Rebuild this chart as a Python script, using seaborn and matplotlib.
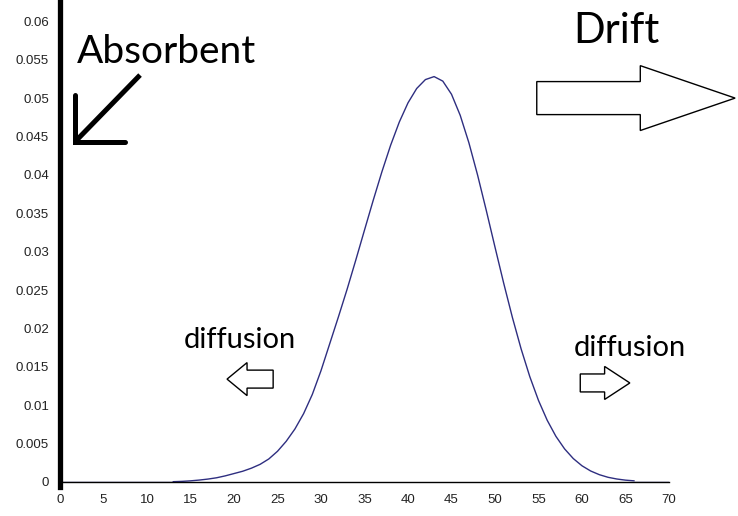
import matplotlib
matplotlib.use("Agg")
import matplotlib.pyplot as plt
import seaborn as sns
import pandas as pd
from matplotlib.patches import FancyArrow

sns.set_style("white")
plt.rcParams['font.family'] = ['Liberation Sans', 'DejaVu Sans']

# concentration profile (x = 13 .. 66, step 1)
pos = list(range(13, 67))
conc = [0.00004, 0.00008, 0.00015, 0.00025, 0.00038, 0.00055, 0.0008,
        0.0011, 0.0014, 0.0018, 0.0023, 0.0030, 0.0040, 0.0053, 0.0069,
        0.0089, 0.0114, 0.0145, 0.0180, 0.0215, 0.0251, 0.02891, 0.03281,
        0.03668, 0.0404, 0.04385, 0.04688, 0.04938, 0.05125, 0.05241,
        0.0528,
        0.05221, 0.0505, 0.04776, 0.04418, 0.03997, 0.03536, 0.03059,
        0.02589, 0.02143, 0.01734, 0.01372, 0.01062, 0.00804, 0.00595,
        0.00431, 0.00305, 0.00211, 0.00143, 0.00095, 0.00061, 0.00039,
        0.00024, 0.00015]
# flat baseline left and right of the pulse
base_left_x = [0, 13]
base_right_x = [66, 70]
base_y = [0, 0]

x_ticks = list(range(0, 71, 5))
y_ticks = [0, 0.005, 0.01, 0.015, 0.02, 0.025, 0.03, 0.035, 0.04, 0.045,
           0.05, 0.055, 0.06]
y_labels = ['0', '0.005', '0.01', '0.015', '0.02', '0.025', '0.03', '0.035',
            '0.04', '0.045', '0.05', '0.055', '0.06']

df = pd.DataFrame({'x': pos, 'c': conc})

fig = plt.figure(figsize=(7.38, 5.16), dpi=100)
ax = fig.add_axes([0.0813, 0.0659, 0.8252, 0.930])

line_col = '#2e2e80'
sns.lineplot(data=df, x='x', y='c', ax=ax, color=line_col, lw=1.0)
sns.lineplot(x=base_left_x, y=base_y, ax=ax, color=line_col, lw=1.0)
sns.lineplot(x=base_right_x, y=base_y, ax=ax, color=line_col, lw=1.0)

ax.set_xlim(0, 70)
ax.set_ylim(0, 0.0625)
ax.set_xticks(x_ticks)
ax.set_yticks(y_ticks)
ax.set_yticklabels(y_labels)
ax.tick_params(axis='both', direction='out', length=4, width=1, colors='black',
               labelsize=9.5, labelcolor='#222222')
ax.tick_params(axis='x', pad=5)
ax.tick_params(axis='y', pad=4)
ax.set_xlabel('')
ax.set_ylabel('')

ax.spines['top'].set_visible(False)
ax.spines['right'].set_visible(False)
ax.spines['left'].set_linewidth(3.8)
ax.spines['left'].set_bounds(-0.0006, 0.0625)
ax.spines['bottom'].set_linewidth(1.0)
for s in ['left', 'bottom']:
    ax.spines[s].set_color('black')

# annotations
txt = ['Lato', 'DejaVu Sans']
ax.text(1.9, 0.0560, 'Absorbent', fontsize=28, family=txt, va='center',
        ha='left', color='black')
ax.text(63.9, 0.0588, 'Drift', fontsize=30, family=txt, va='center',
        ha='center', color='black')
ax.text(20.7, 0.0185, 'diffusion', fontsize=21, family=txt, va='center',
        ha='center', color='black')
ax.text(65.5, 0.0174, 'diffusion', fontsize=21, family=txt, va='center',
        ha='center', color='black')

# black absorbent arrow
ax.plot([9.2, 1.72], [0.053, 0.0443], color='black', lw=3.6,
        solid_capstyle='butt', clip_on=False)
ax.plot([1.72, 1.72, 7.47], [0.0504, 0.0443, 0.0443], color='black', lw=3.6,
        solid_joinstyle='miter', clip_on=False)

# hollow block arrows
arrows = [
    (54.8, 0.0500, 22.8, 0.0043, 0.00845, 10.9),
    (24.5, 0.0134, -5.3, 0.00234, 0.0043, 2.3),
    (59.8, 0.0129, 5.7, 0.00234, 0.0043, 2.9),
]
for x0, y0, dx, w, hw, hl in arrows:
    ax.add_patch(FancyArrow(x0, y0, dx, 0, width=w, head_width=hw,
                            head_length=hl, length_includes_head=True,
                            facecolor='white', edgecolor='black', lw=1.0,
                            clip_on=False, zorder=5))

fig.savefig('out.png', dpi=100)
